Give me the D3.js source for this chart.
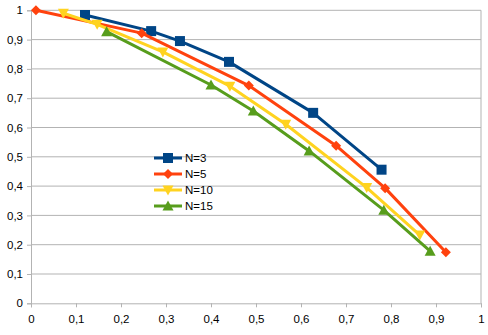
<!DOCTYPE html>
<html><head><meta charset="utf-8">
<script src="https://cdn.jsdelivr.net/npm/d3@7"></script>
<style>body{margin:0;background:#fff}svg{display:block}</style>
</head><body>
<script>
const seriesNames = ["N=3","N=5","N=10","N=15"];
const colors = ["#004586","#ff420e","#ffd320","#579d1c"];
const n3x = [0.12,0.267,0.331,0.44,0.627,0.779];
const n3y = [0.984,0.929,0.895,0.824,0.650,0.456];
const n5x = [0.011,0.246,0.484,0.678,0.787,0.922];
const n5y = [1.0,0.922,0.743,0.538,0.393,0.174];
const n10x = [0.072,0.147,0.293,0.442,0.566,0.746,0.864];
const n10y = [0.99,0.952,0.858,0.741,0.611,0.395,0.233];
const n15x = [0.168,0.40,0.494,0.618,0.784,0.887];
const n15y = [0.927,0.745,0.656,0.52,0.318,0.178];
const xTicks = [0,0.1,0.2,0.3,0.4,0.5,0.6,0.7,0.8,0.9,1];
const yTicks = [0,0.1,0.2,0.3,0.4,0.5,0.6,0.7,0.8,0.9,1];
const symbols = ["square","diamond","down","up"];

const W=488,H=335;
const svg=d3.select("body").append("svg").attr("width",W).attr("height",H);
const x=d3.scaleLinear().domain([0,1]).range([31,481]);
const y=d3.scaleLinear().domain([0,1]).range([303.3,10.3]);
const fmt=d=>String(+d.toFixed(1)).replace(".",",");

svg.append("g").selectAll("line").data(yTicks.slice(1)).join("line")
 .attr("x1",x(0)).attr("x2",x(1)).attr("y1",d=>y(d)).attr("y2",d=>y(d))
 .attr("stroke","#b3b3b3").attr("stroke-width",1);
svg.append("line").attr("x1",x(1)).attr("x2",x(1)).attr("y1",y(0)).attr("y2",y(1)).attr("stroke","#b3b3b3");

const xa=svg.append("g").attr("transform",`translate(0,${y(0)})`)
 .call(d3.axisBottom(x).tickValues(xTicks).tickFormat(fmt).tickSize(4).tickPadding(8));
const ya=svg.append("g").attr("transform",`translate(${x(0)},0)`)
 .call(d3.axisLeft(y).tickValues(yTicks).tickFormat(fmt).tickSize(4).tickPadding(4));
[xa,ya].forEach(a=>{
 a.selectAll("path,line").attr("stroke","#b3b3b3").attr("stroke-width",1);
 a.selectAll("text").attr("fill","#000").style("font-family","Liberation Sans, Arial, sans-serif").style("font-size","11.5px");
});

const data=[[n3x,n3y],[n5x,n5y],[n10x,n10y],[n15x,n15y]].map(([xs,ys])=>xs.map((v,i)=>[v,ys[i]]));
const line=d3.line().x(d=>x(d[0])).y(d=>y(d[1]));
function marker(g,i){
 const s=symbols[i];
 if(s==="down") return g.append("path").attr("d","M-5.5,-4.5L5.5,-4.5L0,5.5Z");
 if(s==="up") return g.append("path").attr("d","M0,-5.5L5.5,4.5L-5.5,4.5Z");
 if(s==="diamond") return g.append("path").attr("d","M0,-5L5,0L0,5L-5,0Z");
 return g.append("path").attr("d","M-5,-5L5,-5L5,5L-5,5Z");
}
data.forEach((pts,i)=>{
 svg.append("path").attr("d",line(pts)).attr("fill","none").attr("stroke",colors[i]).attr("stroke-width",3).attr("stroke-linejoin","round");
 pts.forEach(p=>{
  const g=svg.append("g").attr("transform",`translate(${x(p[0])},${y(p[1])})`);
  marker(g,i).attr("fill",colors[i]);
 });
});

const lg=svg.append("g");
seriesNames.forEach((n,i)=>{
 const yy=158+i*16;
 lg.append("line").attr("x1",154).attr("x2",182).attr("y1",yy).attr("y2",yy).attr("stroke",colors[i]).attr("stroke-width",3);
 const g=lg.append("g").attr("transform",`translate(168,${yy})`);
 marker(g,i).attr("fill",colors[i]);
 lg.append("text").attr("x",185).attr("y",yy+4).text(n)
  .style("font-family","Liberation Sans, Arial, sans-serif").style("font-size","11.5px");
});
</script>
</body></html>
